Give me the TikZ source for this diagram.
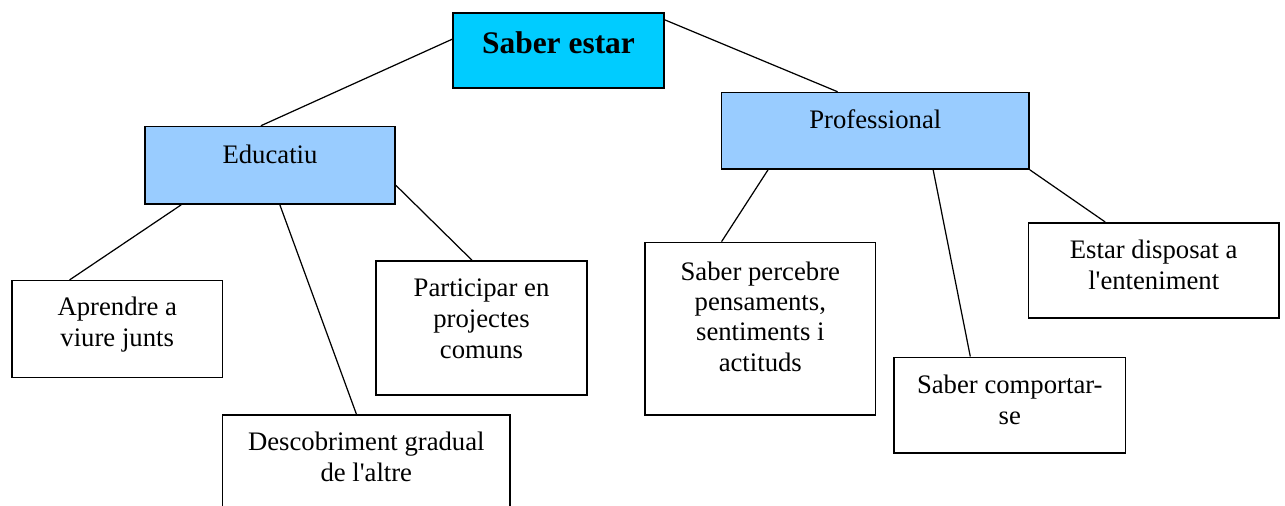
\documentclass[tikz,border=0pt]{standalone}
\usepackage{tikz}
\usetikzlibrary{positioning}
\usepackage{xcolor}
\usepackage{fontspec}
\setmainfont{Liberation Serif}

\definecolor{topcyan}{HTML}{00CCFF}
\definecolor{midblue}{HTML}{99CCFF}

\tikzset{
  box/.style={draw, line width=0.9pt, inner sep=0pt},
  txt/.style={align=center, inner sep=0pt, font=\fontsize{15.2}{17.7}\selectfont},
  link/.style={line width=0.7pt}
}

\begin{document}
\begin{tikzpicture}[x=0.02cm, y=-0.02cm]
    \useasboundingbox (0,0) rectangle (1285,506);

    % Top box
    \node[box, fill=topcyan, minimum width=4.23cm, minimum height=1.51cm] (saber) at (558.5,50.5) {};
    \node[txt, font=\bfseries\fontsize{17.9}{21}\selectfont, below=0.38cm of saber.north] (sabertxt) {Saber estar};

    % Second level
    \node[box, fill=midblue, minimum width=5.0cm, minimum height=1.55cm] (educatiu) at (270,165.3) {};
    \node[txt, below=0.37cm of educatiu.north] (educatiutxt) {Educatiu};

    \node[box, fill=midblue, minimum width=6.15cm, minimum height=1.53cm] (prof) at (875.3,130.8) {};
    \node[txt, below=0.36cm of prof.north] (proftxt) {Professional};

    % Leaves under Educatiu
    \node[box, fill=white, minimum width=4.22cm, minimum height=1.94cm] (aprendre) at (117.2,329.2) {};
    \node[txt, below=0.33cm of aprendre.north] (aprendretxt) {Aprendre a\\viure junts};

    \node[box, fill=white, minimum width=5.75cm, minimum height=2.0cm] (descob) at (366.3,465) {};
    \node[txt, below=0.35cm of descob.north] (descobtxt) {Descobriment gradual\\de l\textquotesingle altre};

    \node[box, fill=white, minimum width=4.22cm, minimum height=2.68cm] (particip) at (481.5,328) {};
    \node[txt, below=0.36cm of particip.north] (participtxt) {Participar en\\projectes\\comuns};

    % Leaves under Professional
    \node[box, fill=white, minimum width=4.61cm, minimum height=3.45cm] (percebre) at (760.3,328.7) {};
    \node[txt, font=\fontsize{15.2}{17.2}\selectfont, below=0.40cm of percebre.north] (percebretxt) {Saber percebre\\pensaments,\\sentiments i\\actituds};

    \node[box, fill=white, minimum width=4.63cm, minimum height=1.92cm] (comport) at (1009.8,405.3) {};
    \node[txt, below=0.36cm of comport.north] (comporttxt) {Saber comportar-\\se};

    \node[box, fill=white, minimum width=5.01cm, minimum height=1.91cm] (disposat) at (1153.7,270.5) {};
    \node[txt, below=0.36cm of disposat.north] (disposattxt) {Estar disposat a\\l\textquotesingle enteniment};

    % Connectors
    \draw[link] (saber.174) -- (educatiu.103);
    \draw[link] (saber.16) -- (prof.134);
    \draw[link] (educatiu.204) -- (aprendre.134);
    \draw[link] (educatiu.284.5) -- (descob.101);
    \draw[link] (educatiu.351.5) -- (particip.98);
    \draw[link] (prof.200.6) -- (percebre.114);
    \draw[link] (prof.326.5) -- (comport.129);
    \draw[link] (prof.south east) -- (disposat.135.5);
\end{tikzpicture}
\end{document}
